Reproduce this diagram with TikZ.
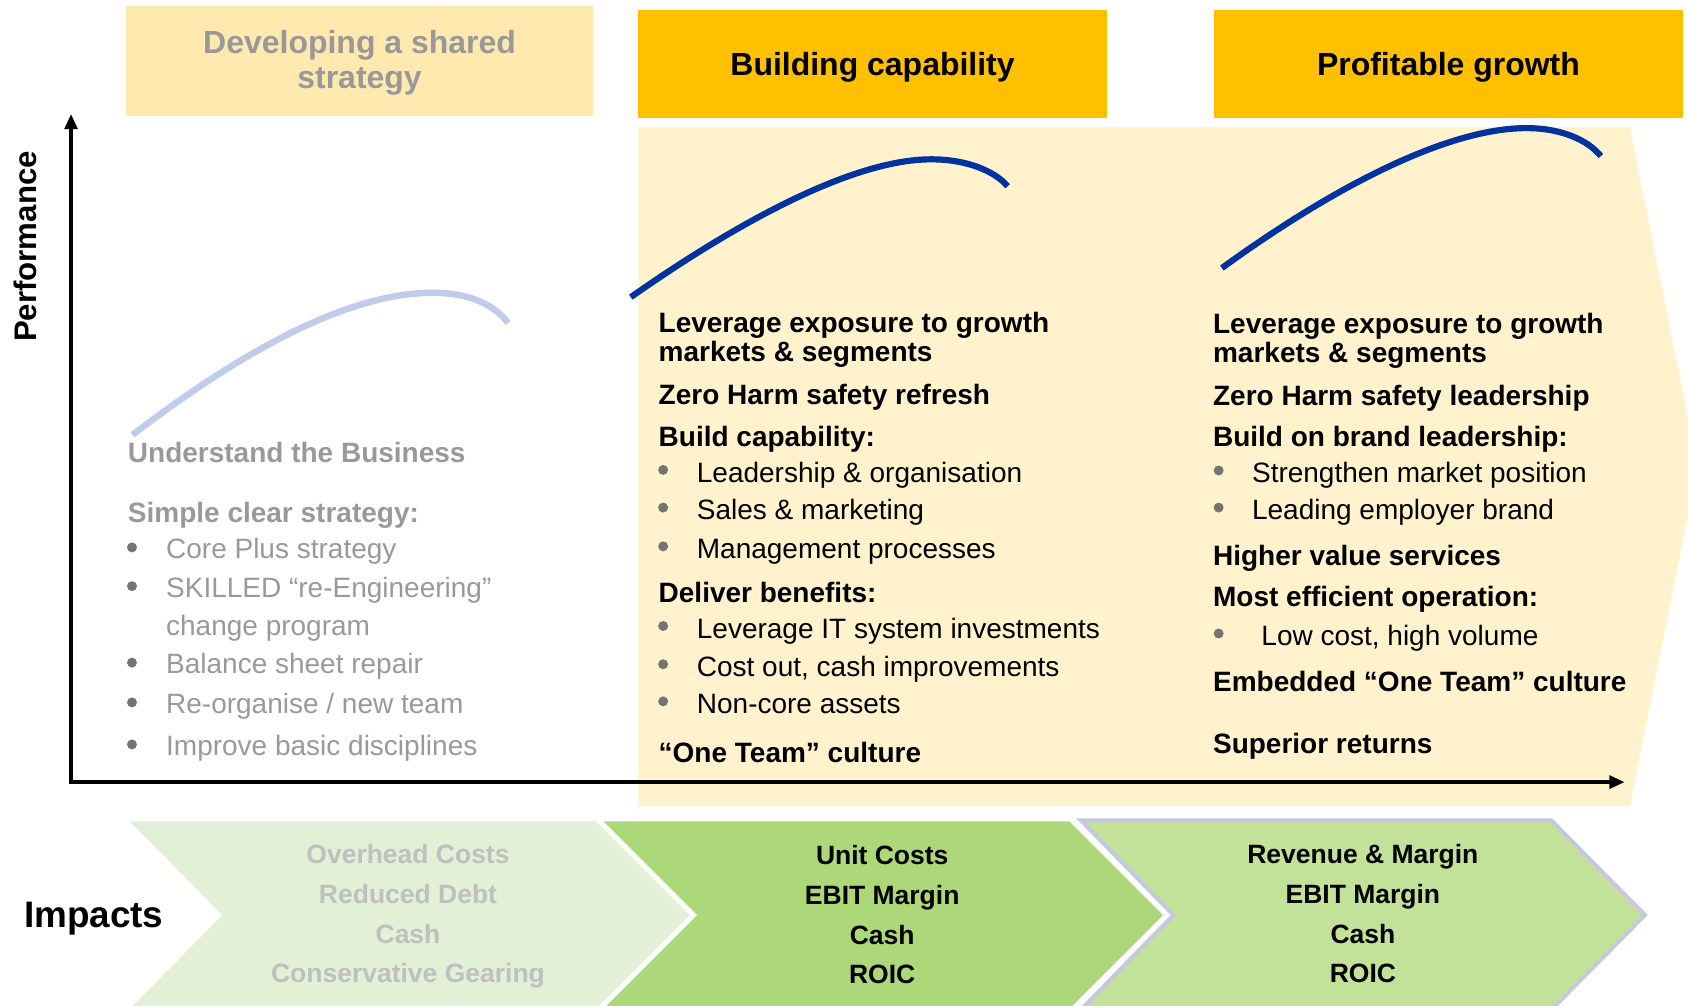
\documentclass[tikz,border=0pt]{standalone}
\usepackage{fontspec}
\setmainfont{Liberation Sans}
\usepackage{tikz}
\usetikzlibrary{arrows.meta}
\definecolor{gold}{RGB}{255,192,0}
\definecolor{paleyel}{RGB}{255,233,175}
\definecolor{panelyel}{RGB}{255,242,204}
\definecolor{txtgray}{RGB}{153,153,153}
\definecolor{dotgray}{RGB}{115,118,110}
\definecolor{lblue}{RGB}{191,205,234}
\definecolor{dblue}{RGB}{0,51,160}
\definecolor{chvA}{RGB}{226,240,214}
\definecolor{chvB}{RGB}{173,216,122}
\definecolor{chvC}{RGB}{193,226,152}
\definecolor{chvedge}{RGB}{197,200,222}
\definecolor{chvtxt}{RGB}{191,191,191}
\tikzset{
  hdr/.style={fill=gold},
  hdrl/.style={fill=paleyel},
  panel/.style={fill=panelyel},
  ht/.style={font=\fontsize{16.9}{18.4}\selectfont\bfseries,align=center,inner sep=0pt},
  bd/.style={anchor=base west,inner sep=0pt,font=\fontsize{14.8}{16}\selectfont\bfseries},
  it/.style={anchor=base west,inner sep=0pt,font=\fontsize{14.8}{16}\selectfont},
  dot/.style={circle,fill=dotgray,minimum size=1.85mm,inner sep=0pt},
  crvl/.style={draw=lblue,line width=1.2mm},
  crv/.style={draw=dblue,line width=1.15mm},
  axis/.style={line width=.6mm,draw=black,{Triangle[length=2.8mm,width=2.4mm]}-{Triangle[length=2.8mm,width=2.4mm]}},
  % the impact row is three chevrons side by side; the last one has
  % a pale lavender rim, the first two a thin white seam
  chv/.style={draw=white,line width=.4mm},
  ct/.style={anchor=base,inner sep=0pt,font=\fontsize{14}{16}\selectfont\bfseries},
}

\begin{document}
\begin{tikzpicture}[x=0.2mm,y=-0.2mm]
\useasboundingbox (0,0) rectangle (1568,934);
\clip (0,0) rectangle (1568,934);
% phase headers
\fill[hdrl] (117,6) rectangle (551,108);
\fill[hdr] (593,9) rectangle (1028,110);
\fill[hdr] (1128,9) rectangle (1563,110);
\node[ht,text=txtgray] (hd1) at (334,58) {Developing a shared\\strategy};
\node[ht,anchor=base] (hd2) at (810.5,69.7) {Building capability};
\node[ht,anchor=base] (hd3) at (1345.5,69.7) {Profitable growth};
\fill[panel] (593,118) -- (1514,118) -- (1577,433) -- (1514,749) -- (593,749) -- cycle;

% performance curves
\draw[crvl] (123,404) .. controls (220,330) and (320,272) .. (402,272)
  .. controls (435,272) and (458,282) .. (472,300);
\draw[crv] (586,276) .. controls (680,210) and (790,148) .. (865,148)
  .. controls (900,148) and (925,160) .. (936,173);
\draw[crv] (1135,249) .. controls (1230,180) and (1340,119) .. (1418,119)
  .. controls (1450,119) and (1475,130) .. (1487,145);

\coordinate (O) at (66,726.5);
\coordinate (Ytop) at (66,106);
\coordinate (Xend) at (1509,726.5);
\draw[axis] (Ytop) -- (O) -- (Xend);
\node[font=\fontsize{16.5}{18}\selectfont\bfseries,rotate=90] (perf) at (24,229) {Performance};

% phase 1
\node[bd,text=txtgray] (u1) at (118.5,430) {Understand the Business};
\node[bd,text=txtgray] (u2) at (118.5,485.5) {Simple clear strategy:};
\node[dot] (ub1) at (122.6,508.5) {}; \node[it,text=txtgray] (u3) at (154,519) {Core Plus strategy};
\node[dot] (ub2) at (122.6,544.5) {}; \node[it,text=txtgray] (u4) at (154,555) {SKILLED “re-Engineering”};
\node[it,text=txtgray] (u5) at (154,590) {change program};
\node[dot] (ub3) at (122.6,615.5) {}; \node[it,text=txtgray] (u6) at (154,626) {Balance sheet repair};
\node[dot] (ub4) at (122.6,652.5) {}; \node[it,text=txtgray] (u7) at (154,663) {Re-organise / new team};
\node[dot] (ub5) at (122.6,691.5) {}; \node[it,text=txtgray] (u8) at (154,702) {Improve basic disciplines};

% phase 2
\node[bd] (c1) at (611.5,309) {Leverage exposure to growth};
\node[bd] (c2) at (611.5,336) {markets \& segments};
\node[bd] (c3) at (611.5,376) {Zero Harm safety refresh};
\node[bd] (c4) at (611.5,415) {Build capability:};
\node[dot] (cb1) at (616,436.5) {}; \node[it] (c5) at (647,448) {Leadership \& organisation};
\node[dot] (cb2) at (616,471.5) {}; \node[it] (c6) at (647,483) {Sales \& marketing};
\node[dot] (cb3) at (616,507.5) {}; \node[it] (c7) at (647,519) {Management processes};
\node[bd] (c8) at (611.5,560) {Deliver benefits:};
\node[dot] (cb4) at (616,581.5) {}; \node[it] (c9) at (647,593) {Leverage IT system investments};
\node[dot] (cb5) at (616,617) {}; \node[it] (c10) at (647,628.6) {Cost out, cash improvements};
\node[dot] (cb6) at (616,651.5) {}; \node[it] (c11) at (647,663) {Non-core assets};
\node[bd] (c12) at (611.5,708.5) {“One Team” culture};

% phase 3
\node[bd] (g1) at (1126.5,309.6) {Leverage exposure to growth};
\node[bd] (g2) at (1126.5,337) {markets \& segments};
\node[bd] (g3) at (1126.5,377) {Zero Harm safety leadership};
\node[bd] (g4) at (1126.5,415) {Build on brand leadership:};
\node[dot] (gb1) at (1132,437) {}; \node[it] (g5) at (1162.7,448.4) {Strengthen market position};
\node[dot] (gb2) at (1132,471.5) {}; \node[it] (g6) at (1162.7,483) {Leading employer brand};
\node[bd] (g7) at (1126.5,525) {Higher value services};
\node[bd] (g8) at (1126.5,563.6) {Most efficient operation:};
\node[dot] (gb3) at (1132,588.5) {}; \node[it] (g9) at (1171.4,600) {Low cost, high volume};
\node[bd] (g10) at (1126.5,642.5) {Embedded “One Team” culture};
\node[bd] (g11) at (1126.5,700) {Superior returns};

% impacts
\node[anchor=base west,inner sep=0pt,font=\fontsize{19.5}{21}\selectfont\bfseries] (imp) at (22,862) {Impacts};
\fill[chv,fill=chvA] (118,762) -- (554,762) -- (642,850) -- (554,938) -- (118,938) -- (205,850) -- cycle;
\fill[chv,fill=chvB] (558,762) -- (994,762) -- (1082,850) -- (994,938) -- (558,938) -- (646,850) -- cycle;
\filldraw[draw=chvedge,line width=.75mm,fill=chvC] (1004,762) -- (1441,762) -- (1528,850) -- (1441,938)
  -- (1004,938) -- (1090,850) -- cycle;
\node[ct,text=chvtxt] (ia1) at (379,802) {Overhead Costs};
\node[ct,text=chvtxt] (ia2) at (379,839) {Reduced Debt};
\node[ct,text=chvtxt] (ia3) at (379,876) {Cash};
\node[ct,text=chvtxt] (ia4) at (379,913) {Conservative Gearing};
\node[ct] (ib1) at (819.5,803) {Unit Costs};
\node[ct] (ib2) at (819.5,840) {EBIT Margin};
\node[ct] (ib3) at (819.5,877) {Cash};
\node[ct] (ib4) at (819.5,914) {ROIC};
\node[ct] (ic1) at (1266,802) {Revenue \& Margin};
\node[ct] (ic2) at (1266,839) {EBIT Margin};
\node[ct] (ic3) at (1266,876) {Cash};
\node[ct] (ic4) at (1266,913) {ROIC};
\end{tikzpicture}
\end{document}
